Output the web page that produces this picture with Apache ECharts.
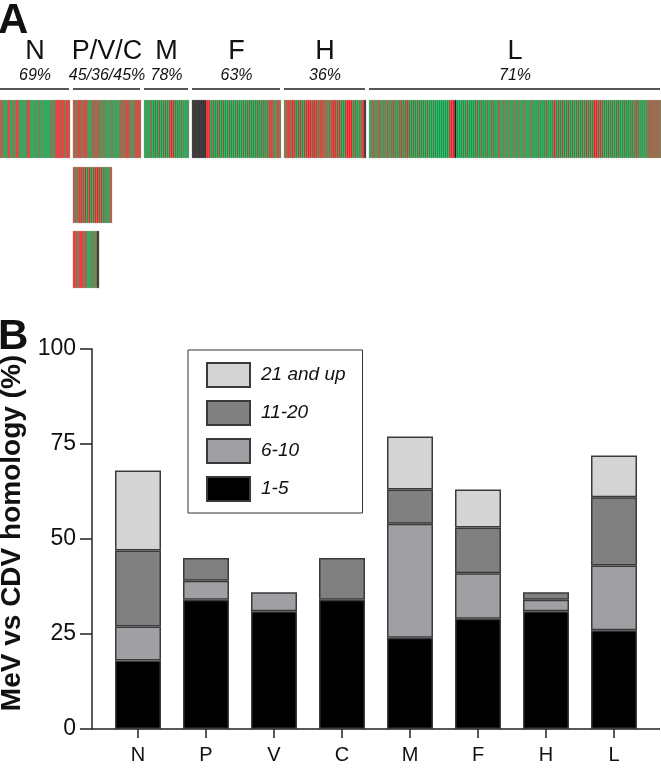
<!DOCTYPE html>
<html><head><meta charset="utf-8">
<script src="https://cdn.jsdelivr.net/npm/echarts@6/dist/echarts.min.js"></script>
<style>html,body{margin:0;padding:0;background:#fff}#c{width:661px;height:770px}</style>
</head><body><div id="c"></div>
<script>
// ---------- Panel A data (stripe codes: G green, g greenish, m mixed, r reddish, R red, K no data) ----------
const geneNames = ['N', 'P/V/C', 'M', 'F', 'H', 'L'];
const genePercents = ['69%', '45/36/45%', '78%', '63%', '36%', '71%'];
const stripN = 'rmGgRGmgRmGgGmRGGgGmGgGGGmgmRRrRmRr';
const stripP = 'rmrRmrRgGmrmrmgmgGgmGgGmrmrRmgmrRr';
const stripM = 'GgGmGgGmGgmGmRrGgGmGGg';
const stripF = 'KKKKKKKRRGmGgmGmGGmGgGmGGmGgmGgGmGgmGmrRmGRm';
const stripH = 'mrRmRrGmrGmrRRmRrmrRmrgmrRrmrgGmRRRgmGgmRK';
const stripL = 'GmrGmrGmgrGmrGgmrGmrgGmGgmGgGmGGgGGG' +
  'GGGGmRRKGGGgGmGGGgmGmGGmGgmGGrGgmGmGgmGmGgmGGmgGGmGGgmGGgRGmGrGgmGmGgmGmGrgmGRRmrmgGmGmGgmGGmGgGmGrmGgGgmrmrmrm';
const stripV = 'rmmRrmrGRGmrRmrgmGgr';
const stripC = 'RrmRRmrGGmgmK';

// ---------- Panel B data ----------
const categories = ['N', 'P', 'V', 'C', 'M', 'F', 'H', 'L'];
const seriesNames = ['1-5', '6-10', '11-20', '21 and up'];
const val1to5 = [18, 34, 31, 34, 24, 29, 31, 26];
const val6to10 = [9, 5, 5, 0, 30, 12, 3, 17];
const val11to20 = [20, 6, 0, 11, 9, 12, 2, 18];
const val21up = [21, 0, 0, 0, 14, 10, 0, 11];
const yAxisTitle = 'MeV vs CDV homology (%)';

// ---------- layout / style ----------
const FONT = '"Liberation Sans", Arial, Helvetica, sans-serif';
const stripLayout = [
  { codes: stripN, box: [0, 100, 70, 58], head: 0 },
  { codes: stripP, box: [73, 100, 68, 58], head: 1 },
  { codes: stripM, box: [144, 100, 45, 58], head: 2 },
  { codes: stripF, box: [192, 100, 89, 58], head: 3 },
  { codes: stripH, box: [284, 100, 82, 58], head: 4 },
  { codes: stripL, box: [369, 100, 292, 58], head: 5 },
  { codes: stripV, box: [73, 167, 39, 56] },
  { codes: stripC, box: [73, 231, 26, 57] }
];
const codeValue = { G: 0, g: 0.2, m: 0.42, r: 0.7, R: 1 };
const GREEN = [16, 158, 74], RED = [236, 32, 38], BLACK = '#231f20';
function codeColor(ch) {
  if (ch === 'K') return BLACK;
  const t = codeValue[ch];
  const c = GREEN.map((g, i) => Math.round(g + (RED[i] - g) * t));
  return 'rgb(' + c.join(',') + ')';
}
const barColors = ['#000000', '#a0a0a4', '#808080', '#d4d4d4'];
const barValues = [val1to5, val6to10, val11to20, val21up];

const grids = [], xAxes = [], yAxes = [], series = [], graphics = [];
stripLayout.forEach((s, i) => {
  const [x, y, w, h] = s.box;
  grids.push({ left: x, top: y, width: w, height: h, outerBoundsMode: 'none' });
  const cells = s.codes.split('');
  xAxes.push({ gridIndex: i, type: 'category', data: cells.map((_, k) => k), show: false });
  yAxes.push({ gridIndex: i, type: 'value', min: 0, max: 1, show: false });
  series.push({
    type: 'bar', xAxisIndex: i, yAxisIndex: i, barCategoryGap: '0%', silent: true,
    data: cells.map(ch => { const col = codeColor(ch); return { value: 1, itemStyle: { color: col, borderColor: col, borderWidth: 0.6 } }; })
  });
  if (s.head !== undefined) {
    const cx = x + w / 2;
    graphics.push({ type: 'line', shape: { x1: x, y1: 89, x2: x + w - 1, y2: 89 }, style: { stroke: '#555', lineWidth: 2 } });
    graphics.push({ type: 'text', x: cx, y: 52, style: { text: geneNames[s.head], fill: '#111', font: '27px ' + FONT, textAlign: 'center', textVerticalAlign: 'middle' } });
    graphics.push({ type: 'text', x: cx, y: 76, style: { text: genePercents[s.head], fill: '#111', font: 'italic 16px ' + FONT, textAlign: 'center', textVerticalAlign: 'middle' } });
  }
});
const MAIN = stripLayout.length;
grids.push({ left: 104, right: 13, top: 349, bottom: 41, outerBoundsMode: 'none', containLabel: false });
xAxes.push({
  gridIndex: MAIN, type: 'category', data: categories,
  axisLine: { show: false },
  axisTick: { show: true, alignWithLabel: true, length: 9, lineStyle: { color: '#222', width: 1.5 } },
  axisLabel: { margin: 16, fontSize: 20, color: '#111', fontFamily: FONT }
});
yAxes.push({
  gridIndex: MAIN, type: 'value', min: 0, max: 100, interval: 25, offset: 12,
  axisLine: { show: true, lineStyle: { color: '#222', width: 1.5 } },
  axisTick: { show: true, length: 12, lineStyle: { color: '#222', width: 1.5 } },
  axisLabel: { margin: 16, fontSize: 23, color: '#111', fontFamily: FONT },
  splitLine: { show: false },
  name: yAxisTitle, nameLocation: 'middle', nameGap: 58,
  nameTextStyle: { fontSize: 28, fontWeight: 'bold', color: '#111', fontFamily: FONT, padding: [0, 0, 0, 12] }
});
seriesNames.forEach((nm, i) => {
  series.push({
    name: nm, type: 'bar', stack: 'hom', xAxisIndex: MAIN, yAxisIndex: MAIN, barWidth: 46,
    itemStyle: { color: barColors[i], borderColor: '#3a3a3a', borderWidth: 1.5 },
    data: barValues[i].map(v => v === 0 ? null : v)
  });
});
graphics.push({ type: 'text', x: -2, y: 0, style: { text: 'A', fill: '#111', font: 'bold 42px ' + FONT } });
graphics.push({ type: 'text', x: -2, y: 316, style: { text: 'B', fill: '#111', font: 'bold 42px ' + FONT } });

const chart = echarts.init(document.getElementById('c'), null, { renderer: 'canvas' });
chart.setOption({
  animation: false,
  backgroundColor: '#fff',
  grid: grids, xAxis: xAxes, yAxis: yAxes, series: series,
  legend: {
    data: seriesNames.slice().reverse(), orient: 'vertical', left: 188, top: 350,
    padding: [12, 17, 11, 18], itemWidth: 43, itemHeight: 24, itemGap: 12, icon: 'rect',
    borderColor: '#333', borderWidth: 1, selectedMode: false,
    textStyle: { fontSize: 19, fontStyle: 'italic', color: '#111', fontFamily: FONT, padding: [0, 0, 0, 6] }
  },
  graphic: graphics
});
// x-axis baseline from the y-axis line to the right end
const y0 = chart.convertToPixel({ yAxisIndex: MAIN }, 0);
const gridRect = chart.getModel().getComponent('grid', MAIN).coordinateSystem.getRect();
graphics.push({ type: 'line', shape: { x1: gridRect.x - 12, y1: y0, x2: gridRect.x + gridRect.width + 12, y2: y0 }, style: { stroke: '#222', lineWidth: 1.5 } });
chart.setOption({ graphic: graphics });
</script></body></html>
